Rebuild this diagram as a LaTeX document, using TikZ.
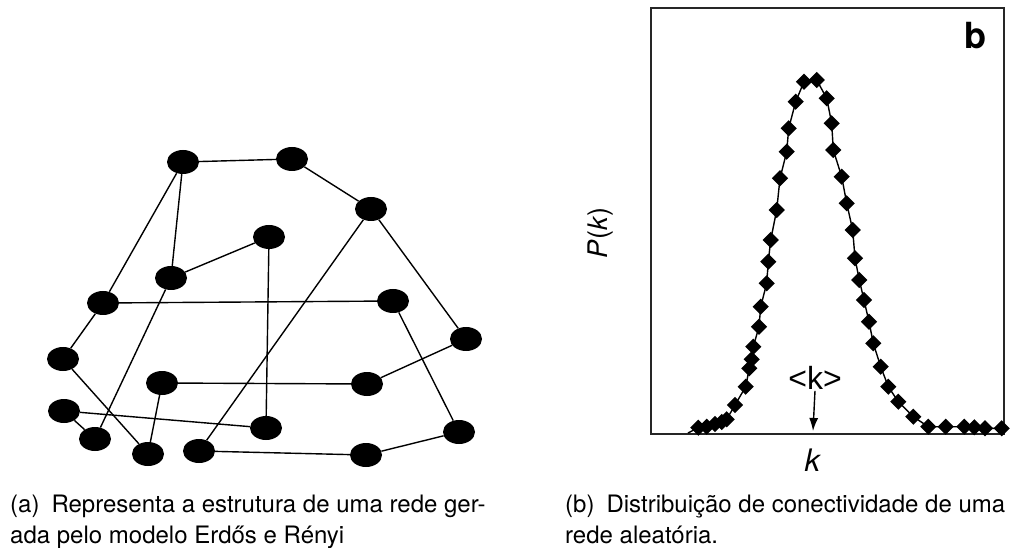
\documentclass[tikz,border=0pt]{standalone}
\usepackage{fontspec}
\setmainfont{TeX Gyre Heros}
\newfontfamily\fonteseta{Liberation Sans}
\usetikzlibrary{shapes.geometric,arrows.meta,plotmarks}

\begin{document}
\begin{tikzpicture}[x=1pt, y=-1pt,
	vertice/.style={ellipse, fill=black, minimum width=32pt, minimum height=24pt, inner sep=0pt},
	aresta/.style={black, line width=1.4pt},
	legenda/.style={anchor=base west, inner sep=0pt, font=\fontsize{24}{30}\selectfont}]
\useasboundingbox (0,0) rectangle (1029,548);
\foreach \n/\x/\y in {1/183/162, 2/292/159, 3/371/209, 4/269/237, 5/171/278, 6/103/303, 7/393/301, 8/466/339, 9/63/359, 10/162/383, 11/367/384, 12/64/411, 13/266/428, 14/459/432, 15/95/439, 16/148/454, 17/199/451, 18/366/455}{
	\node[vertice] (v\n) at (\x,\y) {};
}
\foreach \a/\b in {1/2, 2/3, 1/6, 1/5, 5/4, 4/13, 3/17, 3/8, 6/7, 6/9, 7/14, 8/11, 10/11, 10/16, 9/16, 12/13, 12/15, 5/15, 17/18, 18/14}{
	\draw[aresta](v\a)--(v\b);
}
\draw[black!85, line width=1.5pt](651,8) rectangle (1004,434);
\draw[black, line width=1.4pt](688,433)--(698.3,427.7);
\draw[black, line width=1.4pt] plot[mark=square*, mark size=5pt, mark options={rotate=45}] coordinates {(698.3,427.7) (706.7,426.7) (715,424) (721.7,422) (726.7,419.3) (735,405) (745.7,386.7) (749.3,368.3) (751.7,359.3) (753.3,346.7) (759,326.7) (760.7,306.7) (766.7,283.3) (768.3,261.7) (770.7,240) (776.7,210) (780,178.3) (786.7,151.7) (788.7,128.3) (795.7,101.7) (804,81.7) (816.7,80) (826.7,98.3) (831.7,123.3) (833.3,150) (841.7,176.7) (846.7,203.3) (852.7,230) (855,258.3) (859.3,280) (864,300) (869,321.7) (873.3,343.3) (880.7,366.7) (888.3,386.7) (898.3,401.7) (913.3,416.7) (928.3,426.7) (945.7,426.7) (964.3,426.7) (974.3,427.3) (985,428.3) (1001.7,428.3)};
\node[font=\fontsize{36}{36}\bfseries\selectfont] (painel) at (975,36) {b};
\node[rotate=90, font=\fontsize{27}{27}\selectfont] (pk) at (601,233) {\textit{P}(\textit{k})};
\node[font=\fontsize{31}{31}\selectfont] (kx) at (813,460) {\textit{k}};
\node[inner sep=1pt, font=\fonteseta\fontsize{32}{32}\selectfont] (kmedio) at (815,378) {<k>};
\coordinate (kaxis) at (813,431);
\draw[black, line width=1.4pt, -{Latex[length=13pt, width=9pt]}](kmedio.south)--(kaxis);
\node[legenda] (capa1) at (10,512) {(a)\enskip Representa a estrutura de uma rede ger-};
\node[legenda] (capa2) at (10,543) {ada pelo modelo Erdős e Rényi};
\node[legenda] (capb1) at (565,512) {(b)\enskip Distribuição de conectividade de uma};
\node[legenda] (capb2) at (565,543) {rede aleatória.};
\end{tikzpicture}
\end{document}
